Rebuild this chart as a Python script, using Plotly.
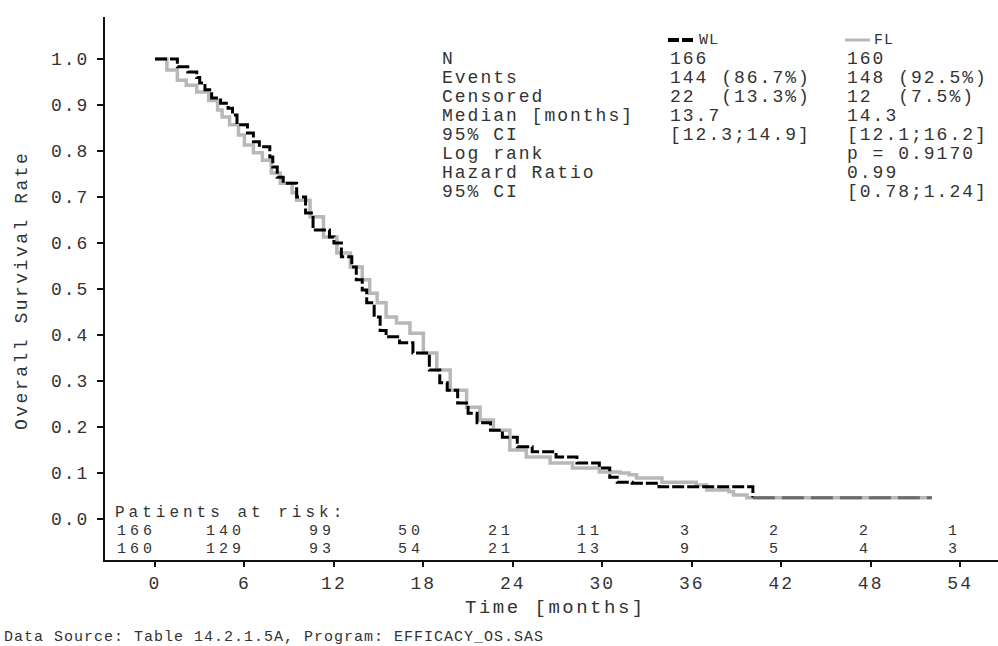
import plotly.graph_objects as go

# ---------------- data ----------------
WL_t = [0, 1.5, 2.2, 2.8, 3.0, 3.35, 3.8, 4.4, 4.9, 5.2, 5.5, 6.2, 6.6, 7.0, 7.7, 7.9, 8.2, 8.6,
        9.5, 10.1, 10.6, 11.7, 12.0, 12.5, 13.2, 13.5, 13.9, 14.2, 14.7, 15.1, 15.5, 16.4, 17.3,
        18.4, 19.1, 19.6, 20.3, 21.0, 21.6, 22.5, 23.3, 24.3, 25.3, 26.9, 28.3, 29.8, 30.5, 31.0,
        32.0, 33.8, 40.1, 52.1]
WL_S = [1.0, 0.983, 0.972, 0.96, 0.948, 0.933, 0.915, 0.904, 0.893, 0.878, 0.857, 0.839, 0.82,
        0.809, 0.787, 0.765, 0.743, 0.73, 0.70, 0.665, 0.628, 0.613, 0.60, 0.57, 0.548, 0.52,
        0.498, 0.47, 0.439, 0.41, 0.396, 0.383, 0.361, 0.324, 0.296, 0.28, 0.252, 0.23, 0.209,
        0.193, 0.178, 0.157, 0.146, 0.135, 0.122, 0.111, 0.091, 0.08, 0.078, 0.07, 0.046, 0.046]

FL_t = [0, 0.8, 1.5, 2.1, 2.8, 3.6, 4.2, 4.5, 5.0, 5.6, 6.0, 6.6, 7.2, 7.8, 8.4, 9.2, 9.5, 10.4,
        11.3, 12.2, 13.1, 13.9, 14.4, 14.9, 15.5, 16.2, 17.1, 18.0, 18.9, 19.8, 20.9, 21.8, 22.7,
        23.8, 24.9, 26.5, 28.0, 29.8, 31.2, 31.8, 32.3, 34.0, 36.3, 37.0, 38.5, 38.8, 39.7, 52.1]
FL_S = [1.0, 0.976, 0.954, 0.943, 0.928, 0.91, 0.889, 0.874, 0.857, 0.835, 0.813, 0.796, 0.78,
        0.752, 0.73, 0.709, 0.693, 0.657, 0.613, 0.578, 0.548, 0.52, 0.491, 0.47, 0.439, 0.426,
        0.404, 0.361, 0.324, 0.28, 0.243, 0.215, 0.193, 0.15, 0.135, 0.122, 0.111, 0.102, 0.10,
        0.096, 0.089, 0.08, 0.074, 0.063, 0.059, 0.052, 0.046, 0.046]

time_ticks = [0, 6, 12, 18, 24, 30, 36, 42, 48, 54]
surv_ticks = [0.0, 0.1, 0.2, 0.3, 0.4, 0.5, 0.6, 0.7, 0.8, 0.9, 1.0]
risk_WL = [166, 140, 99, 50, 21, 11, 3, 2, 2, 1]
risk_FL = [160, 129, 93, 54, 21, 13, 9, 5, 4, 3]

stat_labels = ["N", "Events", "Censored", "Median [months]", "95% CI", "Log rank",
               "Hazard Ratio", "95% CI"]
stat_WL = ["166", "144 (86.7%)", "22  (13.3%)", "13.7", "[12.3;14.9]", "", "", ""]
stat_FL = ["160", "148 (92.5%)", "12  (7.5%)", "14.3", "[12.1;16.2]", "p = 0.9170", "0.99",
           "[0.78;1.24]"]
group_names = ["WL", "FL"]

# ---------------- layout helpers ----------------
W, H = 998, 646
L, R, T, B = 105, 0, 17, 86
FONT = "Liberation Mono, Courier New, monospace"
TXT = "#333333"


def px(xp):
    return (xp - L) / (W - L - R)


def py(yp):
    return (H - B - yp) / (H - T - B)


def sp(s, ls=2.0):
    s = s.replace(" ", "\u00a0")
    return f'<span style="letter-spacing:{ls}px">{s}</span>'


fig = go.Figure()

# FL (gray solid)
fig.add_trace(go.Scatter(x=FL_t, y=FL_S, mode="lines", line_shape="hv",
                         line=dict(color="#b8b8b8", width=3.5), name=group_names[1],
                         showlegend=False, hoverinfo="skip"))
# WL (black dashed); tail after last WL drop drawn in dark gray as in the reference
cut = WL_t.index(40.1)
fig.add_trace(go.Scatter(x=WL_t[:cut + 1], y=WL_S[:cut + 1], mode="lines", line_shape="hv",
                         line=dict(color="#000000", width=3, dash="12px,3px"),
                         name=group_names[0], showlegend=False, hoverinfo="skip"))
fig.add_trace(go.Scatter(x=WL_t[cut:], y=WL_S[cut:], mode="lines", line_shape="hv",
                         line=dict(color="#6a6a6a", width=3, dash="22px,7px"),
                         name=group_names[0], showlegend=False, hoverinfo="skip"))

ann = []
# stats table
row_y = [59, 78, 97, 116, 135, 154, 173, 192]
for i, lab in enumerate(stat_labels):
    ann.append(dict(x=px(440), y=py(row_y[i]), text=sp(lab), xanchor="left",
                    yanchor="middle"))
    if stat_WL[i]:
        ann.append(dict(x=px(668), y=py(row_y[i]), text=sp(stat_WL[i]), xanchor="left",
                        yanchor="middle"))
    if stat_FL[i]:
        ann.append(dict(x=px(845), y=py(row_y[i]), text=sp(stat_FL[i]), xanchor="left",
                        yanchor="middle"))
# legend header
ann.append(dict(x=px(697), y=py(40), text=sp(group_names[0], 1), xanchor="left",
                yanchor="middle", font=dict(size=15)))
ann.append(dict(x=px(872), y=py(40), text=sp(group_names[1], 1), xanchor="left",
                yanchor="middle", font=dict(size=15)))

# patients at risk
ann.append(dict(x=px(113), y=py(513), text=sp("Patients at risk:", 4), xanchor="left",
                yanchor="middle", font=dict(size=16)))
for tv, a, b in zip(time_ticks, risk_WL, risk_FL):
    ann.append(dict(x=tv, xref="x", y=py(531), text=sp(str(a), 4), xanchor="right",
                    yanchor="middle", xshift=3, font=dict(size=15)))
    ann.append(dict(x=tv, xref="x", y=py(549), text=sp(str(b), 4), xanchor="right",
                    yanchor="middle", xshift=3, font=dict(size=15)))

# axis titles
ann.append(dict(x=px(22), y=py(291), text=sp("Overall Survival Rate", 2.5), textangle=-90,
                xanchor="center", yanchor="middle"))
ann.append(dict(x=px(555), y=py(608), text=sp("Time [months]", 2.5), xanchor="center",
                yanchor="middle", font=dict(size=19)))
# footer
ann.append(dict(x=px(2), y=py(637),
                text=sp("Data Source: Table 14.2.1.5A, Program: EFFICACY_OS.SAS", 1),
                xanchor="left", yanchor="middle", font=dict(size=15)))

for a in ann:
    a.setdefault("xref", "paper")
    a.setdefault("yref", "paper")
    a["showarrow"] = False
    f = dict(family=FONT, size=18, color=TXT)
    f.update(a.get("font", {}))
    a["font"] = f

shapes = [
    dict(type="line", xref="paper", yref="paper", x0=px(668), x1=px(695), y0=py(40), y1=py(40),
         line=dict(color="#000000", width=4, dash="11px,3px")),
    dict(type="line", xref="paper", yref="paper", x0=px(845), x1=px(870), y0=py(40), y1=py(40),
         line=dict(color="#b8b8b8", width=3)),
]

fig.update_layout(
    width=W, height=H,
    margin=dict(l=L, r=R, t=T, b=B, autoexpand=False),
    paper_bgcolor="white", plot_bgcolor="white",
    font=dict(family=FONT, size=18, color=TXT),
    showlegend=False,
    annotations=ann,
    shapes=shapes,
    xaxis=dict(range=[-3.353, 56.54], tickvals=time_ticks,
               ticktext=[sp(str(v)) for v in time_ticks],
               showline=True, linecolor="#111111", linewidth=2, ticks="outside", ticklen=5,
               tickwidth=2, tickcolor="#111111", showgrid=False, zeroline=False,
               tickfont=dict(family=FONT, size=18, color=TXT), automargin=False),
    yaxis=dict(range=[-0.0891, 1.0913], tickvals=surv_ticks,
               ticktext=[sp(f"{v:.1f}") for v in surv_ticks],
               showline=True, linecolor="#111111", linewidth=2, ticks="outside", ticklen=6,
               tickwidth=2, tickcolor="#111111", showgrid=False, zeroline=False,
               tickfont=dict(family=FONT, size=18, color=TXT), automargin=False,
               ticklabelstandoff=4),
)

fig.write_html("out.html", config={"displayModeBar": False},
               post_script="document.body.style.margin='0px';"
                           "document.body.style.overflow='hidden';")
